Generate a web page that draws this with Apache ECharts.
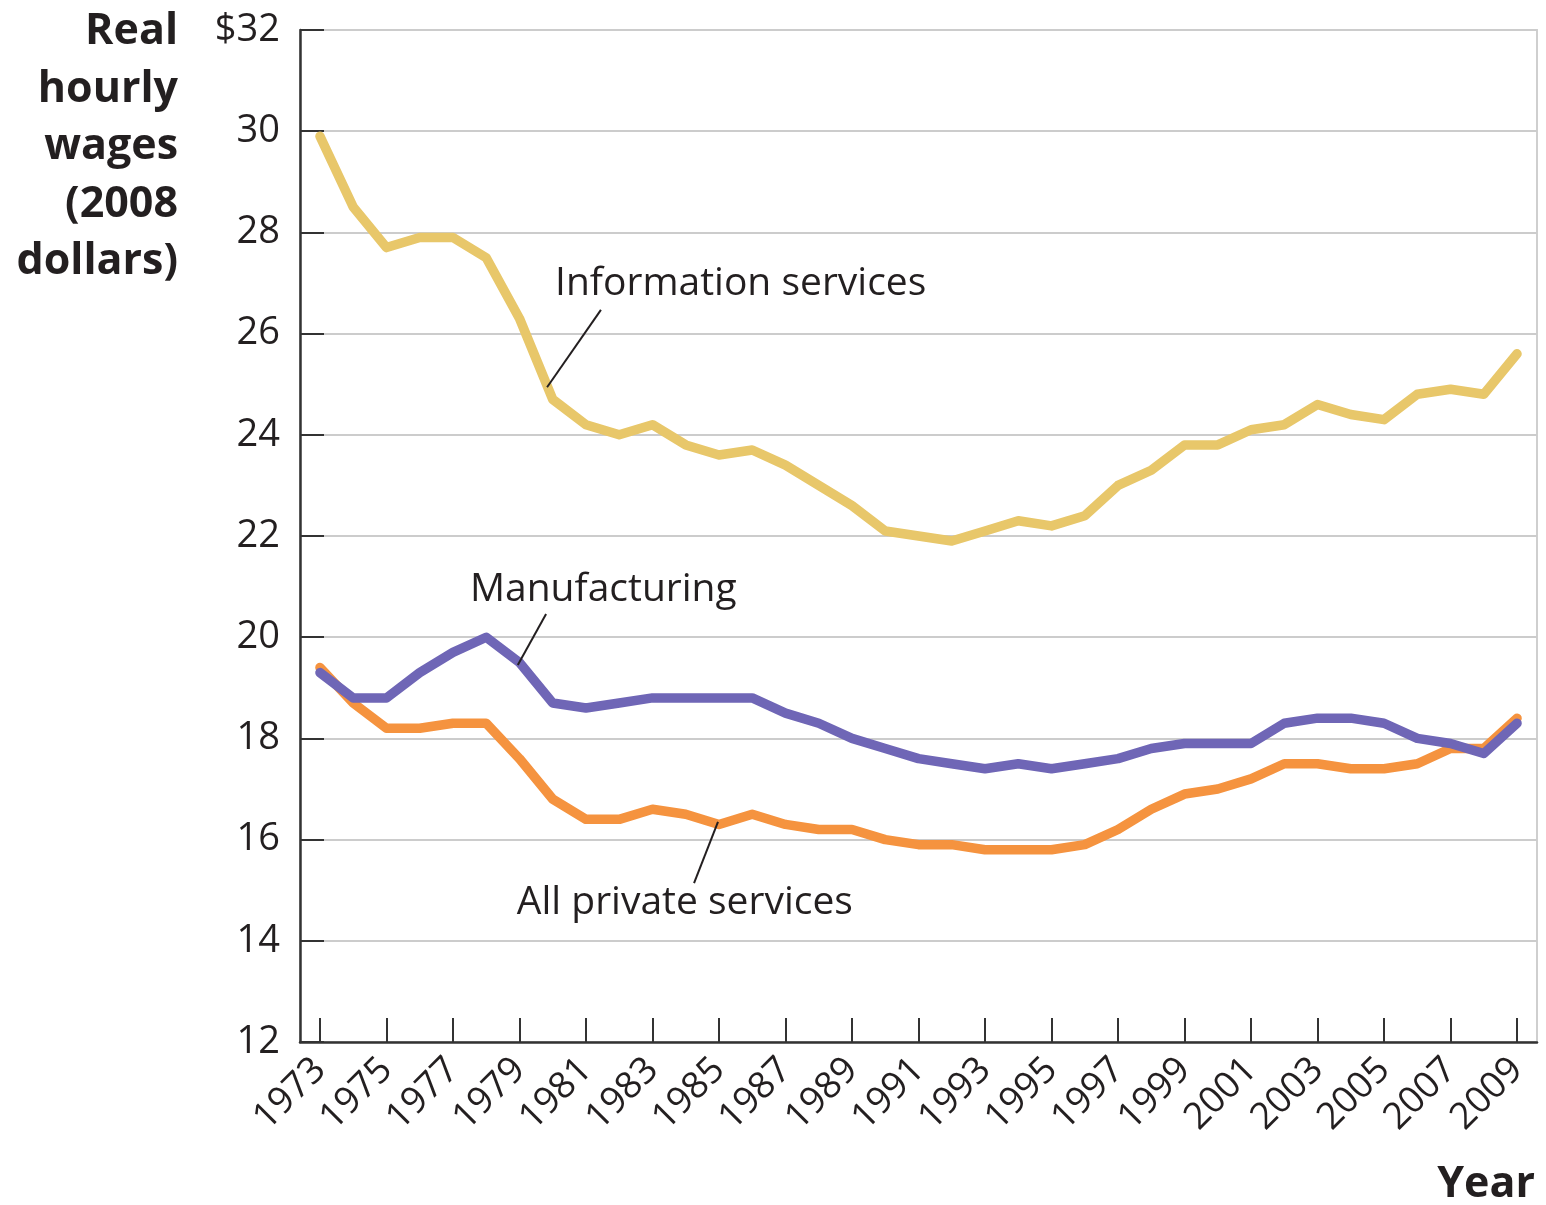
<!DOCTYPE html>
<html>
<head>
<meta charset="utf-8">
<title>Real hourly wages, 1973–2009</title>
<script src="https://cdn.jsdelivr.net/npm/echarts@6/dist/echarts.min.js"></script>
<style>
  html, body { margin: 0; padding: 0; background: #ffffff; }
  #chart { width: 1546px; height: 1205px; }
</style>
</head>
<body>
<div id="chart"></div>
<script>
// Years covered by every series
const years = [
  1973, 1974, 1975, 1976, 1977, 1978, 1979, 1980, 1981, 1982,
  1983, 1984, 1985, 1986, 1987, 1988, 1989, 1990, 1991, 1992,
  1993, 1994, 1995, 1996, 1997, 1998, 1999, 2000, 2001, 2002,
  2003, 2004, 2005, 2006, 2007, 2008, 2009
];

// Real hourly wages, 2008 dollars
const informationServices = [
  29.9, 28.5, 27.7, 27.9, 27.9, 27.5, 26.3, 24.7, 24.2, 24.0,
  24.2, 23.8, 23.6, 23.7, 23.4, 23.0, 22.6, 22.1, 22.0, 21.9,
  22.1, 22.3, 22.2, 22.4, 23.0, 23.3, 23.8, 23.8, 24.1, 24.2,
  24.6, 24.4, 24.3, 24.8, 24.9, 24.8, 25.6
];
const manufacturing = [
  19.3, 18.8, 18.8, 19.3, 19.7, 20.0, 19.5, 18.7, 18.6, 18.7,
  18.8, 18.8, 18.8, 18.8, 18.5, 18.3, 18.0, 17.8, 17.6, 17.5,
  17.4, 17.5, 17.4, 17.5, 17.6, 17.8, 17.9, 17.9, 17.9, 18.3,
  18.4, 18.4, 18.3, 18.0, 17.9, 17.7, 18.3
];
const allPrivateServices = [
  19.4, 18.7, 18.2, 18.2, 18.3, 18.3, 17.6, 16.8, 16.4, 16.4,
  16.6, 16.5, 16.3, 16.5, 16.3, 16.2, 16.2, 16.0, 15.9, 15.9,
  15.8, 15.8, 15.8, 15.9, 16.2, 16.6, 16.9, 17.0, 17.2, 17.5,
  17.5, 17.4, 17.4, 17.5, 17.8, 17.8, 18.4
];

// Labelled years on the horizontal axis
const yearTicks = [
  1973, 1975, 1977, 1979, 1981, 1983, 1985, 1987, 1989, 1991,
  1993, 1995, 1997, 1999, 2001, 2003, 2005, 2007, 2009
];

// Callout text and leader lines, in [year, wage] coordinates
const calloutNames = ['Information services', 'Manufacturing', 'All private services'];
const calloutTextAt = [[1980.07, 26.99], [1977.51, 20.93], [1978.92, 14.75]];
const calloutLineFrom = [[1981.45, 26.47], [1979.80, 20.46], [1984.97, 16.35]];
const calloutLineTo = [[1979.83, 24.94], [1978.95, 19.45], [1984.25, 15.14]];

const FONT = '"Open Sans", "DejaVu Sans", sans-serif';
const INK = '#231f20';

const pairs = (vals) => years.map((y, i) => [y, vals[i]]);

const chart = echarts.init(document.getElementById('chart'), null, { renderer: 'canvas' });

const lineSeries = (name, vals, color, z) => ({
  name: name,
  type: 'line',
  data: pairs(vals),
  showSymbol: false,
  symbol: 'none',
  smooth: false,
  z: z,
  lineStyle: { color: color, width: 9.5, cap: 'round', join: 'round' },
  emphasis: { disabled: true },
  animation: false
});

chart.setOption({
  backgroundColor: '#ffffff',
  animation: false,
  grid: {
    left: 300, right: 9, top: 30, bottom: 163,
    show: true, borderColor: '#cfcfcf', borderWidth: 2, backgroundColor: 'transparent'
  },
  xAxis: {
    type: 'value',
    min: 1972.4,
    max: 2009.6,
    axisLine: { show: true, onZero: false, lineStyle: { color: '#333333', width: 2.5 } },
    axisTick: {
      show: true, inside: true, length: 24,
      customValues: yearTicks,
      lineStyle: { color: '#333333', width: 2 }
    },
    axisLabel: {
      customValues: yearTicks,
      rotate: 45,
      margin: 22,
      fontFamily: FONT,
      fontSize: 37,
      color: INK,
      formatter: (v) => String(v)
    },
    splitLine: { show: false }
  },
  yAxis: {
    type: 'value',
    min: 12,
    max: 32,
    interval: 2,
    axisLine: { show: true, onZero: false, lineStyle: { color: '#333333', width: 2.5 } },
    axisTick: { show: true, inside: true, length: 24, lineStyle: { color: '#333333', width: 2 } },
    axisLabel: {
      margin: 20,
      fontFamily: FONT,
      fontSize: 38,
      color: INK,
      formatter: (v) => (v === 32 ? '$' + v : String(v))
    },
    splitLine: { show: true, lineStyle: { color: '#cccccc', width: 2 } }
  },
  series: [
    lineSeries('Information services', informationServices, '#e8c76a', 3),
    lineSeries('All private services', allPrivateServices, '#f5933f', 4),
    lineSeries('Manufacturing', manufacturing, '#6f66b6', 5)
  ],
  graphic: [
    {
      type: 'text',
      style: {
        x: 178, y: 3,
        text: 'Real\nhourly\nwages\n(2008\ndollars)',
        align: 'right',
        verticalAlign: 'top',
        lineHeight: 57.5,
        fontFamily: FONT,
        fontWeight: 'bold',
        fontSize: 43,
        fill: INK
      }
    },
    {
      type: 'text',
      style: {
        x: 1535, y: 1185,
        text: 'Year',
        align: 'right',
        verticalAlign: 'middle',
        fontFamily: FONT,
        fontWeight: 'bold',
        fontSize: 43,
        fill: INK
      }
    }
  ]
});

// Callouts placed through the chart's own coordinate system
const calloutGraphics = [];
calloutNames.forEach((name, i) => {
  const t = chart.convertToPixel({ gridIndex: 0 }, calloutTextAt[i]);
  const a = chart.convertToPixel({ gridIndex: 0 }, calloutLineFrom[i]);
  const b = chart.convertToPixel({ gridIndex: 0 }, calloutLineTo[i]);
  calloutGraphics.push({
    type: 'line',
    z: 10,
    shape: { x1: a[0], y1: a[1], x2: b[0], y2: b[1] },
    style: { stroke: INK, lineWidth: 2 }
  });
  calloutGraphics.push({
    type: 'text',
    z: 10,
    style: {
      x: t[0], y: t[1],
      text: name,
      align: 'left',
      verticalAlign: 'middle',
      fontFamily: FONT,
      fontSize: 39,
      fill: INK
    }
  });
});
chart.setOption({ graphic: chart.getOption().graphic[0].elements.concat(calloutGraphics) });
</script>
</body>
</html>
